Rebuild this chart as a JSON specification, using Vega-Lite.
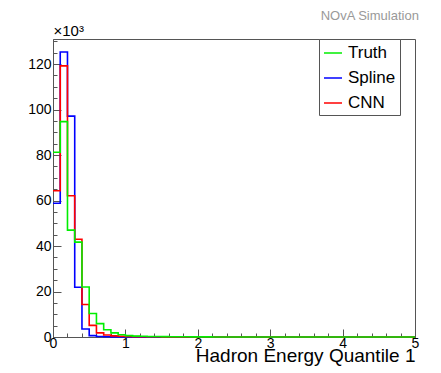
{
  "$schema": "https://vega.github.io/schema/vega-lite/v6.json",
  "width": 362,
  "height": 298,
  "autosize": {"type": "none"},
  "padding": {"left": 53, "top": 39, "right": 26, "bottom": 36},
  "background": "white",
  "config": {"view": {"stroke": "#555555", "strokeWidth": 1}},
  "title": {"text": "NOvA Simulation", "anchor": "end", "offset": 0, "fontSize": 13, "fontWeight": "normal", "color": "#999999", "font": "Liberation Sans"},
  "data": {"values": [
    {"series": "Spline", "edge": 0.0, "count": 58.8},
    {"series": "Spline", "edge": 0.1, "count": 125.3},
    {"series": "Spline", "edge": 0.2, "count": 97.1},
    {"series": "Spline", "edge": 0.3, "count": 21.9},
    {"series": "Spline", "edge": 0.4, "count": 3.5},
    {"series": "Spline", "edge": 0.5, "count": 0.6},
    {"series": "Spline", "edge": 0.6, "count": 0.2},
    {"series": "Spline", "edge": 0.7, "count": 0.1},
    {"series": "Spline", "edge": 0.8, "count": 0.05},
    {"series": "Spline", "edge": 0.9, "count": 0},
    {"series": "Spline", "edge": 5.0, "count": 0},
    {"series": "CNN", "edge": 0.0, "count": 64.3},
    {"series": "CNN", "edge": 0.1, "count": 119.2},
    {"series": "CNN", "edge": 0.2, "count": 62.1},
    {"series": "CNN", "edge": 0.3, "count": 43.0},
    {"series": "CNN", "edge": 0.4, "count": 14.3},
    {"series": "CNN", "edge": 0.5, "count": 5.1},
    {"series": "CNN", "edge": 0.6, "count": 1.8},
    {"series": "CNN", "edge": 0.7, "count": 0.9},
    {"series": "CNN", "edge": 0.8, "count": 0.5},
    {"series": "CNN", "edge": 0.9, "count": 0.3},
    {"series": "CNN", "edge": 1.0, "count": 0.2},
    {"series": "CNN", "edge": 1.1, "count": 0.15},
    {"series": "CNN", "edge": 1.2, "count": 0.1},
    {"series": "CNN", "edge": 1.3, "count": 0.1},
    {"series": "CNN", "edge": 1.4, "count": 0.08},
    {"series": "CNN", "edge": 1.5, "count": 0.06},
    {"series": "CNN", "edge": 1.6, "count": 0.05},
    {"series": "CNN", "edge": 1.7, "count": 0.05},
    {"series": "CNN", "edge": 1.8, "count": 0.04},
    {"series": "CNN", "edge": 1.9, "count": 0.04},
    {"series": "CNN", "edge": 2.0, "count": 0.03},
    {"series": "CNN", "edge": 2.1, "count": 0.03},
    {"series": "CNN", "edge": 2.2, "count": 0.03},
    {"series": "CNN", "edge": 2.3, "count": 0},
    {"series": "CNN", "edge": 5.0, "count": 0},
    {"series": "Truth", "edge": 0.0, "count": 81.2},
    {"series": "Truth", "edge": 0.1, "count": 94.7},
    {"series": "Truth", "edge": 0.2, "count": 47.0},
    {"series": "Truth", "edge": 0.3, "count": 41.7},
    {"series": "Truth", "edge": 0.4, "count": 22.0},
    {"series": "Truth", "edge": 0.5, "count": 10.3},
    {"series": "Truth", "edge": 0.6, "count": 5.9},
    {"series": "Truth", "edge": 0.7, "count": 3.2},
    {"series": "Truth", "edge": 0.8, "count": 1.8},
    {"series": "Truth", "edge": 0.9, "count": 1.0},
    {"series": "Truth", "edge": 1.0, "count": 0.6},
    {"series": "Truth", "edge": 1.1, "count": 0.4},
    {"series": "Truth", "edge": 1.2, "count": 0.3},
    {"series": "Truth", "edge": 1.3, "count": 0.2},
    {"series": "Truth", "edge": 1.4, "count": 0.2},
    {"series": "Truth", "edge": 1.5, "count": 0.15},
    {"series": "Truth", "edge": 1.6, "count": 0.1},
    {"series": "Truth", "edge": 1.7, "count": 0.1},
    {"series": "Truth", "edge": 1.8, "count": 0.08},
    {"series": "Truth", "edge": 1.9, "count": 0.06},
    {"series": "Truth", "edge": 2.0, "count": 0.05},
    {"series": "Truth", "edge": 2.1, "count": 0.04},
    {"series": "Truth", "edge": 2.2, "count": 0.03},
    {"series": "Truth", "edge": 2.3, "count": 0},
    {"series": "Truth", "edge": 5.0, "count": 0}
  ]},
  "mark": {"type": "line", "interpolate": "step-after", "strokeWidth": 1.6, "clip": false},
  "encoding": {
    "x": {
      "field": "edge", "type": "quantitative",
      "scale": {"domain": [0, 5], "nice": false, "zero": false},
      "axis": {
        "title": "Hadron Energy Quantile 1",
        "titleAnchor": "end", "titleFontSize": 19, "titleFont": "Liberation Sans", "titleFontWeight": "normal", "titleColor": "black", "titlePadding": -8,
        "values": [0, 0.2, 0.4, 0.6, 0.8, 1, 1.2, 1.4, 1.6, 1.8, 2, 2.2, 2.4, 2.6, 2.8, 3, 3.2, 3.4, 3.6, 3.8, 4, 4.2, 4.4, 4.6, 4.8, 5],
        "format": ".0f",
        "labelExpr": "datum.value == round(datum.value) ? datum.label : ''",
        "tickSize": {"condition": {"test": "datum.value == round(datum.value)", "value": -8}, "value": -4},
        "labelPadding": 7, "labelFontSize": 14, "labelFont": "Liberation Sans", "labelColor": "black",
        "labelFlush": false, "labelOverlap": false,
        "tickColor": "#555555", "domainColor": "#555555", "grid": false
      }
    },
    "y": {
      "field": "count", "type": "quantitative",
      "scale": {"domain": [0, 131], "nice": false, "zero": true},
      "axis": {
        "title": "×10³", "titleAngle": 0, "titleX": 0, "titleY": -4, "titleAlign": "left", "titleBaseline": "alphabetic",
        "titleFontSize": 15, "titleFont": "Liberation Sans", "titleFontWeight": "normal", "titleColor": "black",
        "values": [0, 5, 10, 15, 20, 25, 30, 35, 40, 45, 50, 55, 60, 65, 70, 75, 80, 85, 90, 95, 100, 105, 110, 115, 120, 125, 130],
        "labelExpr": "datum.value % 20 == 0 ? datum.label : ''",
        "tickSize": {"condition": {"test": "datum.value % 20 == 0", "value": -8}, "value": -4},
        "labelPadding": 10, "labelFontSize": 14, "labelFont": "Liberation Sans", "labelColor": "black",
        "labelFlush": false, "labelOverlap": false,
        "tickColor": "#555555", "domainColor": "#555555", "grid": false
      }
    },
    "color": {
      "field": "series", "type": "nominal",
      "scale": {"domain": ["Truth", "Spline", "CNN"], "range": ["#00ee00", "#0000ff", "#ff0000"]},
      "legend": {
        "title": null, "orient": "none", "legendX": 266, "legendY": 0, "direction": "vertical",
        "symbolType": "stroke", "symbolSize": 324, "symbolStrokeWidth": 1.5,
        "labelFontSize": 17, "labelFont": "Liberation Sans", "labelColor": "black",
        "strokeColor": "#555555", "fillColor": "white", "padding": 4, "rowPadding": 7, "labelOffset": 5,
        "labelExpr": "datum.label + '\u00a0\u00a0\u00a0\u00a0'", "labelLimit": 200
      }
    }
  }
}
